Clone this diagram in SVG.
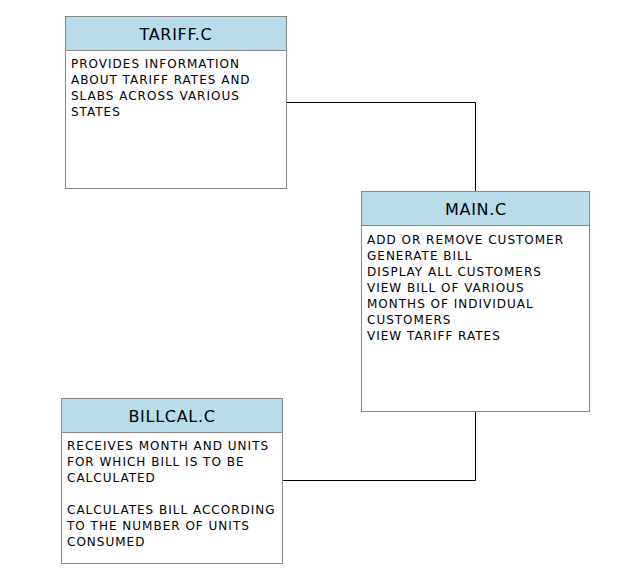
<svg xmlns="http://www.w3.org/2000/svg" width="635" height="586" viewBox="0 0 635 586">
<style>
.box{fill:#ffffff;stroke:#888888;stroke-width:1}
.hdr{fill:#b6dde8;stroke:#888888;stroke-width:1}
.title{font-family:"DejaVu Sans",Verdana,sans-serif;font-size:16px;fill:#000;text-anchor:middle;dominant-baseline:central;letter-spacing:0.7px}
.body{font-family:"DejaVu Sans",Verdana,sans-serif;font-size:12px;fill:#000;dominant-baseline:central;letter-spacing:1px}
.conn{fill:none;stroke:#000;stroke-width:1}
</style>
<rect width="635" height="586" fill="#fff"/>
<g id="connectors">
<path class="conn" d="M286.5,102.5 H475.5 V191"/>
<path class="conn" d="M282.5,480.5 H475.5 V411"/>
</g>
<g id="tariff">
<rect class="box" x="65.5" y="16.5" width="221" height="172"/>
<rect class="hdr" x="65.5" y="16.5" width="221" height="34"/>
<text class="title" x="176" y="34">TARIFF.C</text>
<text class="body" x="71" y="64">PROVIDES INFORMATION</text>
<text class="body" x="71" y="80">ABOUT TARIFF RATES AND</text>
<text class="body" x="71" y="96">SLABS ACROSS VARIOUS</text>
<text class="body" x="71" y="112">STATES</text>
</g>
<g id="main">
<rect class="box" x="361.5" y="191.5" width="228" height="220"/>
<rect class="hdr" x="361.5" y="191.5" width="228" height="34"/>
<text class="title" x="476" y="209">MAIN.C</text>
<text class="body" x="367" y="240">ADD OR REMOVE CUSTOMER</text>
<text class="body" x="367" y="256">GENERATE BILL</text>
<text class="body" x="367" y="272">DISPLAY ALL CUSTOMERS</text>
<text class="body" x="367" y="288">VIEW BILL OF VARIOUS</text>
<text class="body" x="367" y="304">MONTHS OF INDIVIDUAL</text>
<text class="body" x="367" y="320">CUSTOMERS</text>
<text class="body" x="367" y="336">VIEW TARIFF RATES</text>
</g>
<g id="billcal">
<rect class="box" x="61.5" y="398.5" width="221" height="165"/>
<rect class="hdr" x="61.5" y="398.5" width="221" height="34"/>
<text class="title" x="172" y="416">BILLCAL.C</text>
<text class="body" x="67" y="446">RECEIVES MONTH AND UNITS</text>
<text class="body" x="67" y="462">FOR WHICH BILL IS TO BE</text>
<text class="body" x="67" y="478">CALCULATED</text>
<text class="body" x="67" y="510">CALCULATES BILL ACCORDING</text>
<text class="body" x="67" y="526">TO THE NUMBER OF UNITS</text>
<text class="body" x="67" y="542">CONSUMED</text>
</g>
</svg>
